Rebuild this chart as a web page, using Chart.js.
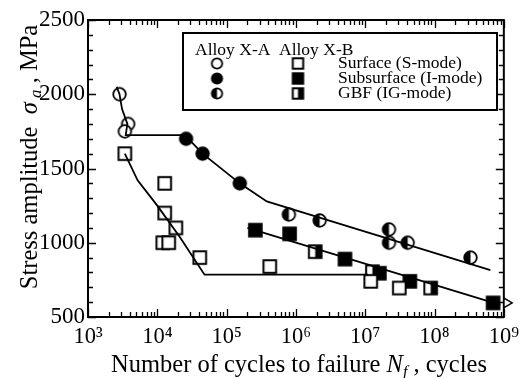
<!DOCTYPE html>
<html><head><meta charset="utf-8">
<script src="https://cdn.jsdelivr.net/npm/chart.js@4"></script>
<style>html,body{margin:0;padding:0;background:#fff}#w{width:526px;height:378px}</style>
</head><body><div id="w"><canvas id="c" width="526" height="378"></canvas></div>
<script>
// ---- tick values / labels ----
const xTicks = [1e3, 1e4, 1e5, 1e6, 1e7, 1e8, 1e9];
const xTickLabels = ['10³', '10⁴', '10⁵', '10⁶', '10⁷', '10⁸', '10⁹'];
const yTicks = [500, 1000, 1500, 2000, 2500];
const yTickLabels = ['500', '1000', '1500', '2000', '2500'];

// ---- Alloy X-A ----
const xaSurfN = [2850, 3800, 3400];
const xaSurfS = [2000, 1800, 1750];
const xaSubN = [2.6e4, 4.5e4, 1.55e5];
const xaSubS = [1700, 1600, 1400];
const xaGbfN = [7.9e5, 2.2e6, 2.2e7, 2.2e7, 4.1e7, 3.3e8];
const xaGbfS = [1190, 1150, 1090, 1000, 1000, 900];
const xaLineN = [2.6e3, 2850, 3100, 3700, 3500, 2.5e4, 4.5e4, 1.55e5, 3.8e5, 6.4e8];
const xaLineS = [2050, 2000, 1900, 1800, 1725, 1725, 1600, 1400, 1278, 815];

// ---- Alloy X-B ----
const xbSurfN = [3.4e3, 1.28e4, 1.28e4, 1.85e4, 1.2e4, 1.46e4, 4.1e4, 4.2e5, 1.2e7, 3.1e7];
const xbSurfS = [1600, 1400, 1200, 1100, 1000, 1000, 900, 840, 740, 695];
const xbSubN = [2.6e5, 8.1e5, 5.1e6, 1.6e7, 4.4e7, 7.0e8];
const xbSubS = [1085, 1060, 890, 795, 740, 595];
const xbGbfN = [1.9e6, 1.27e7, 8.8e7];
const xbGbfS = [940, 805, 695];
const xbSurfLineN = [3.4e3, 5.2e3, 1.0e4, 2.1e4, 4.8e4, 1.1e7];
const xbSurfLineS = [1600, 1420, 1250, 1040, 785, 785];
const xbSubLineN = [2.0e5, 8.9e8];
const xbSubLineS = [1100, 581];
const runoutN = [1.1e9];
const runoutS = [595];

const FONT = "'Liberation Serif','Times New Roman',serif";
const pts = (n, s) => n.map((v, i) => ({x: v, y: s[i]}));

function marker(kind, r) {
  const s = Math.ceil(r * 2 + 4);
  const c = document.createElement('canvas');
  c.width = s; c.height = s;
  const g = c.getContext('2d');
  const m = s / 2;
  g.lineWidth = 1.8; g.strokeStyle = '#000';
  if (kind.startsWith('c')) {
    g.beginPath(); g.arc(m, m, r, 0, Math.PI * 2);
    g.fillStyle = kind === 'cFill' ? '#000' : '#fff'; g.fill();
    if (kind === 'cHalf') {
      g.beginPath(); g.arc(m, m, r, Math.PI / 2, Math.PI * 1.5); g.closePath();
      g.fillStyle = '#000'; g.fill();
    }
    g.beginPath(); g.arc(m, m, r, 0, Math.PI * 2); g.stroke();
  } else {
    const a = m - r, w = r * 2;
    g.fillStyle = kind === 'sFill' ? '#000' : '#fff'; g.fillRect(a, a, w, w);
    if (kind === 'sHalf') { g.fillStyle = '#000'; g.fillRect(m, a, r, w); }
    g.lineWidth = 2; g.strokeRect(a, a, w, w);
  }
  return c;
}
const R = 6.3;
const M = {
  cOpen: marker('cOpen', R), cFill: marker('cFill', R), cHalf: marker('cHalf', R),
  sOpen: marker('sOpen', R), sFill: marker('sFill', R), sHalf: marker('sHalf', R)
};
const L = {
  cOpen: marker('cOpen', 5.2), cFill: marker('cFill', 5.2), cHalf: marker('cHalf', 5.2),
  sOpen: marker('sOpen', 5.2), sFill: marker('sFill', 5.2), sHalf: marker('sHalf', 5.2)
};

const lineDs = (n, s) => ({data: pts(n, s), showLine: true, borderColor: '#000', borderWidth: 1.8,
  pointRadius: 0, pointHoverRadius: 0, fill: false, tension: 0});
const ptDs = (n, s, st) => ({data: pts(n, s), showLine: false, pointStyle: st, pointRadius: R});

const decor = {
  id: 'decor',
  beforeDatasetsDraw(chart) {
    const {ctx, chartArea: a, scales: {x, y}} = chart;
    ctx.save();
    ctx.strokeStyle = '#000';
    ctx.lineWidth = 1.3;
    ctx.beginPath();
    for (let k = 3; k <= 9; k++) {
      for (let m = 1; m <= 9; m++) {
        if (k === 9 && m > 1) break;
        const v = m * Math.pow(10, k);
        const px = Math.round(x.getPixelForValue(v)) + 0.5;
        const len = m === 1 ? 8 : 5;
        ctx.moveTo(px, a.bottom); ctx.lineTo(px, a.bottom - len);
        ctx.moveTo(px, a.top); ctx.lineTo(px, a.top + len);
      }
    }
    for (let v = 500; v <= 2500; v += 100) {
      const py = Math.round(y.getPixelForValue(v)) + 0.5;
      const len = v % 500 === 0 ? 8 : 5;
      ctx.moveTo(a.left, py); ctx.lineTo(a.left + len, py);
      ctx.moveTo(a.right, py); ctx.lineTo(a.right - len, py);
    }
    ctx.stroke();
    ctx.lineWidth = 2;
    ctx.strokeRect(a.left, a.top, a.right - a.left, a.bottom - a.top);
    ctx.restore();
  },
  afterDraw(chart) {
    const {ctx} = chart;
    ctx.save();
    ctx.fillStyle = '#000';
    const fs = 24.5;
    const drawParts = (parts, cx, base) => {
      let w = 0;
      parts.forEach(p => { ctx.font = p.f; w += ctx.measureText(p.t).width; });
      let xx = cx - w / 2;
      ctx.textBaseline = 'alphabetic'; ctx.textAlign = 'left';
      parts.forEach(p => { ctx.font = p.f; ctx.fillText(p.t, xx, base + p.dy); xx += ctx.measureText(p.t).width; });
    };
    // x axis title
    drawParts([
      {t: 'Number of cycles to failure ', f: `${fs}px ${FONT}`, dy: 0},
      {t: 'N', f: `italic ${fs}px ${FONT}`, dy: 0},
      {t: 'f', f: `italic ${Math.round(fs * 0.66)}px ${FONT}`, dy: 5},
      {t: ' , cycles', f: `${fs}px ${FONT}`, dy: 0}
    ], 299, 372);
    // y axis title
    ctx.save();
    ctx.translate(37, 157);
    ctx.rotate(-Math.PI / 2);
    drawParts([
      {t: 'Stress amplitude  ', f: `${fs}px ${FONT}`, dy: 0},
      {t: 'σ', f: `italic ${fs}px ${FONT}`, dy: 0},
      {t: ' a', f: `italic ${Math.round(fs * 0.68)}px ${FONT}`, dy: 4},
      {t: ' , MPa', f: `${fs}px ${FONT}`, dy: 0}
    ], 0, 0);
    ctx.restore();
    // legend
    const bx = 183, by = 33, bw = 314, bh = 77;
    ctx.fillStyle = '#fff'; ctx.fillRect(bx, by, bw, bh);
    ctx.lineWidth = 2; ctx.strokeStyle = '#000'; ctx.strokeRect(bx, by, bw, bh);
    ctx.fillStyle = '#000';
    ctx.font = `17.5px ${FONT}`; ctx.textAlign = 'left'; ctx.textBaseline = 'alphabetic';
    ctx.fillText('Alloy X-A', 195, 55);
    ctx.fillText('Alloy X-B', 279, 55);
    const rows = [['cOpen', 'sOpen', 'Surface (S-mode)'], ['cFill', 'sFill', 'Subsurface (I-mode)'], ['cHalf', 'sHalf', 'GBF (IG-mode)']];
    rows.forEach((r, i) => {
      const cy = 63.5 + i * 15;
      const c1 = L[r[0]], c2 = L[r[1]];
      ctx.drawImage(c1, 217 - c1.width / 2, cy - c1.height / 2);
      ctx.drawImage(c2, 298 - c2.width / 2, cy - c2.height / 2);
      ctx.fillText(r[2], 338, cy + 4.5);
    });
    ctx.restore();
  }
};

new Chart(document.getElementById('c'), {
  type: 'scatter',
  data: {
    datasets: [
      lineDs(xaLineN, xaLineS),
      lineDs(xbSurfLineN, xbSurfLineS),
      lineDs(xbSubLineN, xbSubLineS),
      ptDs(xbSurfN, xbSurfS, M.sOpen),
      ptDs(xbGbfN, xbGbfS, M.sHalf),
      ptDs(xbSubN, xbSubS, M.sFill),
      ptDs(xaSurfN, xaSurfS, M.cOpen),
      ptDs(xaSubN, xaSubS, M.cFill),
      ptDs(xaGbfN, xaGbfS, M.cHalf),
      {data: pts(runoutN, runoutS), showLine: false, pointStyle: 'triangle', pointRotation: 90,
        pointRadius: 5.5, backgroundColor: '#fff', borderColor: '#000', borderWidth: 1.5, clip: false}
    ]
  },
  options: {
    responsive: false, animation: false, devicePixelRatio: 1,
    layout: {padding: {left: 0, right: 21, top: 20, bottom: 0}},
    plugins: {legend: {display: false}, tooltip: {enabled: false}},
    events: [],
    scales: {
      x: {
        type: 'logarithmic', min: 1e3, max: 1e9,
        afterBuildTicks: s => { s.ticks = xTicks.map(v => ({value: v, major: true})); },
        afterFit: s => { s.height = 61; },
        grid: {display: false, drawTicks: false},
        border: {display: false},
        ticks: {
          autoSkip: false, maxRotation: 0, padding: 7, color: '#000',
          font: {family: FONT, size: 22.5},
          callback: (v) => { const i = xTicks.indexOf(v); return i >= 0 ? xTickLabels[i] : ''; }
        }
      },
      y: {
        type: 'linear', min: 500, max: 2500,
        afterBuildTicks: s => { s.ticks = yTicks.map(v => ({value: v})); },
        afterFit: s => { s.width = 88; },
        grid: {display: false, drawTicks: false},
        border: {display: false},
        ticks: {
          padding: 3, color: '#000', font: {family: FONT, size: 23},
          callback: (v) => { const i = yTicks.indexOf(v); return i >= 0 ? yTickLabels[i] : ''; }
        }
      }
    }
  },
  plugins: [decor]
});
</script>
</body></html>
